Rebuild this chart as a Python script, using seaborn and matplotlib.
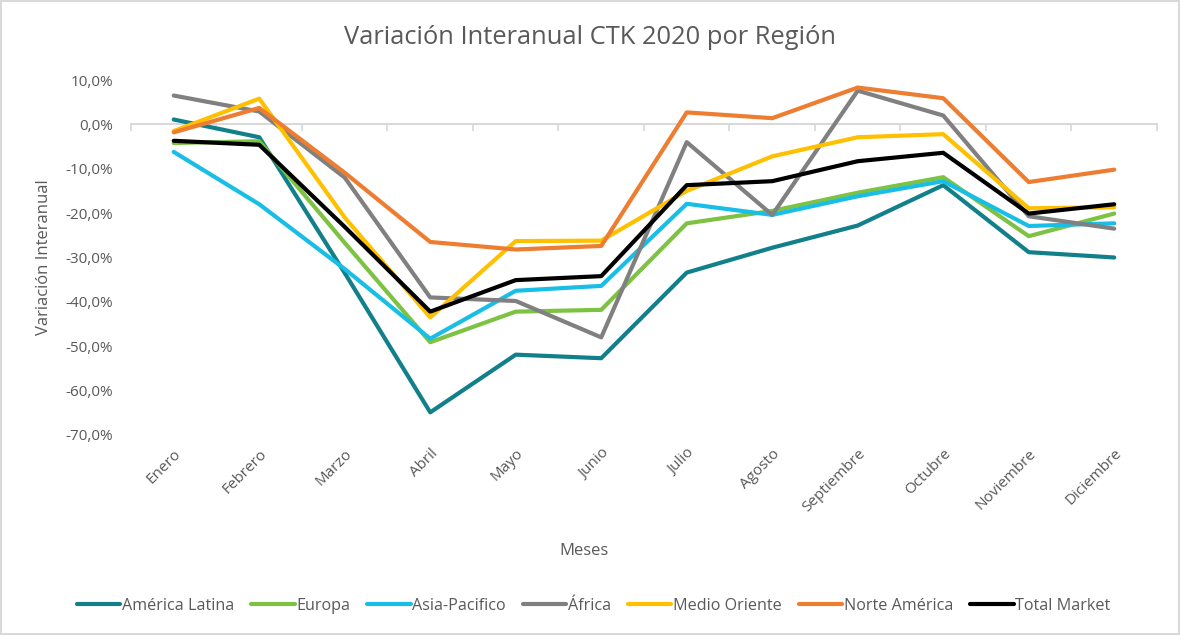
import numpy as np
import pandas as pd
import matplotlib
matplotlib.use('Agg')
import matplotlib.pyplot as plt
from matplotlib.ticker import FuncFormatter
import seaborn as sns

# Data (percent, year over year)
meses = ['Enero', 'Febrero', 'Marzo', 'Abril', 'Mayo', 'Junio', 'Julio',
         'Agosto', 'Septiembre', 'Octubre', 'Noviembre', 'Diciembre']

america_latina = [1.1, -2.9, -33.5, -64.9, -51.9, -52.7, -33.4, -27.8, -22.8, -13.7, -28.8, -30.0]
europa = [-4.2, -3.8, -26.7, -49.1, -42.2, -41.8, -22.3, -19.5, -15.4, -11.9, -25.2, -20.1]
asia_pacifico = [-6.2, -18.0, -32.6, -48.3, -37.5, -36.4, -17.9, -20.4, -16.2, -12.8, -22.9, -22.3]
africa = [6.5, 2.9, -12.0, -39.0, -39.8, -48.0, -4.0, -20.4, 7.6, 2.0, -20.7, -23.5]
medio_oriente = [-1.5, 5.8, -21.0, -43.5, -26.3, -26.2, -15.0, -7.2, -2.9, -2.2, -18.9, -18.7]
norte_america = [-1.8, 3.7, -10.9, -26.5, -28.2, -27.4, 2.7, 1.4, 8.3, 5.9, -13.0, -10.2]
total_market = [-3.7, -4.6, -23.1, -42.2, -35.1, -34.2, -13.7, -12.8, -8.3, -6.4, -20.1, -18.0]

regiones = ['América Latina', 'Europa', 'Asia-Pacifico', 'África',
            'Medio Oriente', 'Norte América', 'Total Market']
series = [america_latina, europa, asia_pacifico, africa,
          medio_oriente, norte_america, total_market]
colores = ['#11808A', '#7DC242', '#19BEE6', '#808080',
           '#FFC000', '#ED7D31', '#000000']

y_min, y_max = -70, 10

df = pd.concat([
    pd.DataFrame({'mes': np.arange(len(meses)), 'Variacion': vals, 'Region': reg})
    for reg, vals in zip(regiones, series)
], ignore_index=True)

sns.set_theme(style='white')
plt.rcParams['font.family'] = ['Open Sans', 'DejaVu Sans']
gris = '#595959'

fig = plt.figure(figsize=(11.8, 6.35), dpi=100)
fig.patch.set_edgecolor('#D9D9D9')
fig.patch.set_linewidth(1.5)
ax = fig.add_axes([0.111, 0.315, 0.8695, 0.559])

sns.lineplot(data=df, x='mes', y='Variacion', hue='Region', hue_order=regiones,
             palette=colores, linewidth=3, ax=ax, sort=False)

ax.set_xlim(-0.5, len(meses) - 0.5)
ax.set_ylim(y_min, y_max)
ax.set_yticks(np.arange(y_min, y_max + 1, 10))
ax.yaxis.set_major_formatter(FuncFormatter(lambda v, p: f'{v:.1f}%'.replace('.', ',')))
ax.set_xticks(np.arange(len(meses)))
ax.set_xticklabels(meses, rotation=45, ha='right', rotation_mode='anchor')
ax.tick_params(axis='x', length=0, pad=8, labelsize=11, labelcolor=gris)
ax.tick_params(axis='y', length=0, pad=13, labelsize=11, labelcolor=gris)
for s in ax.spines.values():
    s.set_visible(False)

# category axis line drawn at 0 %, with tick marks between categories
zero_pos = (0 - y_min) / (y_max - y_min)
sec = ax.secondary_xaxis(zero_pos)
sec.set_alignment('bottom')
sec.set_xticks(np.arange(len(meses) + 1) - 0.5)
sec.tick_params(axis='x', which='both', length=5, width=1.2, color='#D9D9D9',
                direction='out', labelbottom=False, labeltop=False)
for s in sec.spines.values():
    s.set_color('#D9D9D9')
    s.set_linewidth(1.5)

fig.text(0.5, 1 - 38 / 635, 'Variación Interanual CTK 2020 por Región',
         fontsize=18.4, color=gris, ha='center', va='center')
ax.set_xlabel('Meses', fontsize=12, color=gris)
ax.set_ylabel('Variación Interanual', fontsize=12, color=gris)
ax.xaxis.set_label_coords(0.442, -0.305)
ax.yaxis.set_label_coords(-0.077, 0.5)

sns.move_legend(ax, 'center', bbox_to_anchor=(0.451, -0.482), ncol=7, title=None,
                frameon=False, fontsize=11.6, handlelength=2.7, handletextpad=0.1,
                columnspacing=1.05, labelcolor=gris)

fig.savefig('out.png', dpi=100, edgecolor=fig.get_edgecolor())
